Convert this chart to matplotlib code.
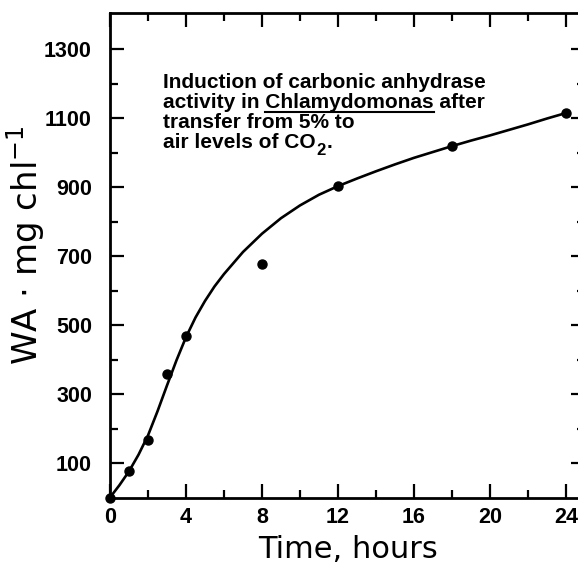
import matplotlib
matplotlib.use("Agg")
import matplotlib.pyplot as plt
from matplotlib.font_manager import FontProperties
from matplotlib.lines import Line2D
from matplotlib.ticker import MultipleLocator

# measured points (hours, WA per mg chl)
time_pts = [0, 1, 2, 3, 4, 8, 12, 18, 24]
wa_pts = [0, 78, 168, 358, 468, 676, 904, 1020, 1116]

# smooth fitted curve
curve_t = [0, 0.5, 1, 1.5, 2, 2.5, 3, 3.5, 4, 4.5, 5, 5.5, 6, 7, 8, 9, 10, 11, 12,
           13, 14, 15, 16, 17, 18, 19, 20, 21, 22, 23, 24]
curve_wa = [0, 36, 76, 124, 180, 250, 325, 398, 465, 522, 570, 612, 648, 712, 765,
            810, 847, 878, 903, 925, 946, 966, 985, 1002, 1019, 1035, 1050, 1066,
            1082, 1099, 1115]

W, H = 578, 563
plt.rcParams['font.family'] = ['DejaVu Sans']
plt.rcParams['mathtext.fontset'] = 'dejavusans'

fig = plt.figure(figsize=(W / 100, H / 100), dpi=100)
ax = fig.add_axes([110 / W, 65.5 / H, 475 / W, 484.5 / H])

ax.plot(curve_t, curve_wa, color='black', lw=1.9, zorder=2)
ax.plot(time_pts, wa_pts, 'o', color='black', ms=6.5, clip_on=False, zorder=3)

ax.set_xlim(0, 25)
ax.set_ylim(0, 1405)
ax.set_xticks(range(0, 25, 4))
ax.xaxis.set_minor_locator(MultipleLocator(2))
ax.set_yticks(range(100, 1400, 200))
ax.set_yticks(range(200, 1400, 200), minor=True)

for s in ax.spines.values():
    s.set_linewidth(2.0)
ax.tick_params(which='both', direction='in', top=True, right=True, width=1.6)
ax.tick_params(which='major', length=10)
ax.tick_params(which='minor', length=5.5)
ax.tick_params(axis='y', which='major', pad=13)
ax.tick_params(axis='x', which='major', pad=7)
for lab in ax.get_xticklabels() + ax.get_yticklabels():
    lab.set_fontfamily('Liberation Sans')
    lab.set_fontweight('bold')
    lab.set_fontsize(15.5)

fig.text(26 / W, 1 - 245 / H, r'WA $\cdot$ mg chl$^{-1}$', rotation=90,
         ha='center', va='center', fontsize=24.5)
fig.text(348 / W, 1 - 549 / H, 'Time, hours', ha='center', va='center',
         fontsize=22)

# annotation block
prop = FontProperties(family='Liberation Sans', weight='bold', size=15)
x0 = 163
lines = ['Induction of carbonic anhydrase',
         'activity in Chlamydomonas after',
         'transfer from 5% to',
         'air levels of CO']
baselines = [88, 108, 128, 148]
for txt, yb in zip(lines, baselines):
    fig.text(x0 / W, 1 - yb / H, txt, fontproperties=prop, va='baseline')

renderer = fig.canvas.get_renderer()


def text_w(s, fp):
    w, _, _ = renderer.get_text_width_height_descent(s, fp, ismath=False)
    return w


# underline the genus name
full = text_w('activity in Chlamydomonas', prop)
genus = text_w('Chlamydomonas', prop)
u0 = x0 + full - genus
u1 = x0 + full
uy = baselines[1] + 4
fig.add_artist(Line2D([u0 / W, u1 / W], [1 - uy / H, 1 - uy / H],
                      transform=fig.transFigure, color='black', lw=1.5))

# CO2 subscript
co_w = text_w('air levels of CO', prop)
sub = FontProperties(family='Liberation Sans', weight='bold', size=12)
fig.text((x0 + co_w + 1) / W, 1 - (baselines[3] + 7) / H, '2',
         fontproperties=sub, va='baseline')
two_w = text_w('2', sub)
fig.text((x0 + co_w + two_w + 2) / W, 1 - baselines[3] / H, '.',
         fontproperties=prop, va='baseline')

fig.savefig('out.png', dpi=100)
